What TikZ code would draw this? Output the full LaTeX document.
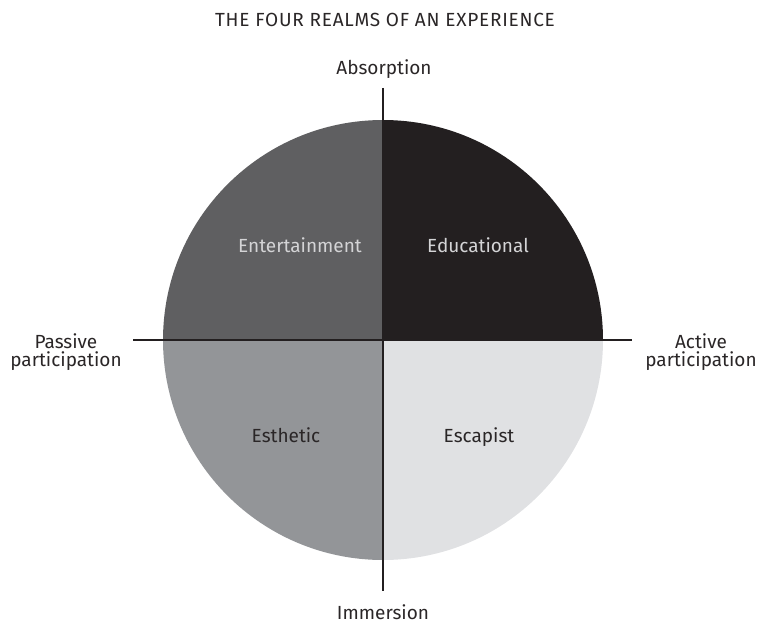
\documentclass[tikz,border=0pt]{standalone}
\usepackage{fontspec}
\setmainfont{Fira Sans}
\definecolor{txt}{HTML}{2A2627}
\definecolor{qent}{HTML}{5F5F61}
\definecolor{qedu}{HTML}{231F20}
\definecolor{qest}{HTML}{939598}
\definecolor{qesc}{HTML}{E0E1E3}
\definecolor{axisc}{HTML}{231F20}
\definecolor{lighttxt}{HTML}{D4D4D6}
\begin{document}
\begin{tikzpicture}[x=1pt,y=1pt,
  lbl/.style={font=\fontsize{19}{18}\selectfont, text=txt, align=center, inner sep=0pt},
  qlbl/.style={font=\fontsize{19}{18}\selectfont, inner sep=0pt, anchor=base},
  axis/.style={draw=axisc, line width=2.4pt}]
\useasboundingbox (0,0) rectangle (765,625);
\coordinate (c) at (383,285);
\fill[qedu] (c) -- (383,505) arc[start angle=90,end angle=0,radius=220] -- cycle;
\fill[qent] (c) -- (163,285) arc[start angle=180,end angle=90,radius=220] -- cycle;
\fill[qest] (c) -- (383,65) arc[start angle=270,end angle=180,radius=220] -- cycle;
\fill[qesc] (c) -- (603,285) arc[start angle=0,end angle=-90,radius=220] -- cycle;
\coordinate (top) at (383,537);
\coordinate (bot) at (383,34);
\coordinate (lft) at (133,285);
\coordinate (rgt) at (632,285);
\draw[axis] (top) -- (bot);
\draw[axis] (lft) -- (rgt);
\node[lbl, anchor=base] (title) at (385,598) {\addfontfeature{LetterSpace=4}THE FOUR REALMS OF AN EXPERIENCE};
\node[lbl, anchor=base] (abs) at (384,550) {Absorption};
\node[lbl, anchor=base] (imm) at (383,6) {Immersion};
\node[lbl] (pas) at (66,273) {Passive\\participation};
\node[lbl] (act) at (701,273) {Active\\participation};
\node[qlbl, text=lighttxt] (ent) at (300,373) {Entertainment};
\node[qlbl, text=lighttxt] (edu) at (478,373) {Educational};
\node[qlbl, text=txt] (est) at (286,183) {Esthetic};
\node[qlbl, text=txt] (esc) at (479,183) {Escapist};
\end{tikzpicture}
\end{document}
